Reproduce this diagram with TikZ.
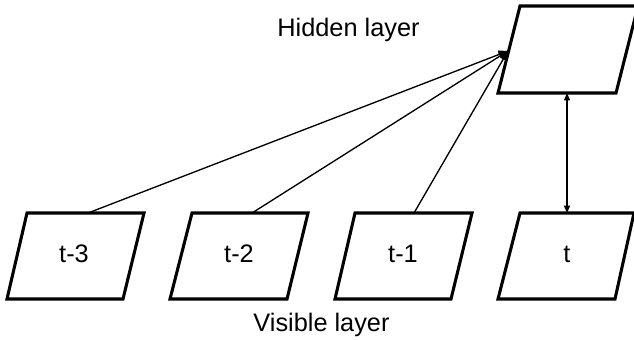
\documentclass[tikz,border=0pt]{standalone}
\usepackage{fontspec}
\setmainfont{Liberation Sans}
\usetikzlibrary{arrows.meta}
\begin{document}
\begin{tikzpicture}[x=0.75pt,y=-0.75pt,
  boxline/.style={line width=2.3pt,line join=miter},
  conn/.style={line width=1pt},
  lbl/.style={anchor=base,inner sep=0pt,font=\fontsize{19}{22}\selectfont},
  tipA/.style={-{Triangle[length=7pt,width=6pt]}},
  tipB/.style={{Triangle[length=5.5pt,width=4.5pt]}-{Triangle[length=5.5pt,width=4.5pt]}}]
\useasboundingbox (0,0) rectangle (634,339);
% hidden box
\draw[boxline] (520,6) -- (638,6) -- (616,93) -- (498,93) -- cycle;
% visible boxes
\draw[boxline] (27,213) -- (144,213) -- (123,299) -- (7,299) -- cycle;
\draw[boxline] (192,213) -- (308,213) -- (287,299) -- (170,299) -- cycle;
\draw[boxline] (355,213) -- (472,213) -- (451,299) -- (335,299) -- cycle;
\draw[boxline] (520,213) -- (634,213) -- (615,299) -- (498,299) -- cycle;
% labels
\node[lbl] (hid) at (348.5,36) {Hidden layer};
\node[lbl] (vis) at (321.5,331) {Visible layer};
\node[lbl] (v3) at (74,262) {t-3};
\node[lbl] (v2) at (239,262) {t-2};
\node[lbl] (v1) at (403,262) {t-1};
\node[lbl] (v0) at (567,262) {t};
% connection points
\coordinate (hin) at (508,51);
\coordinate (hbot) at (567,93);
\coordinate (v3top) at (88,213);
\coordinate (v2top) at (252,213);
\coordinate (v1top) at (414,213);
\coordinate (v0top) at (567,213);
\draw[conn,tipA] (v3top) -- (hin);
\draw[conn,tipA] (v2top) -- (hin);
\draw[conn,tipA] (v1top) -- (hin);
\draw[conn,tipB] (hbot) -- (v0top);
\end{tikzpicture}
\end{document}
